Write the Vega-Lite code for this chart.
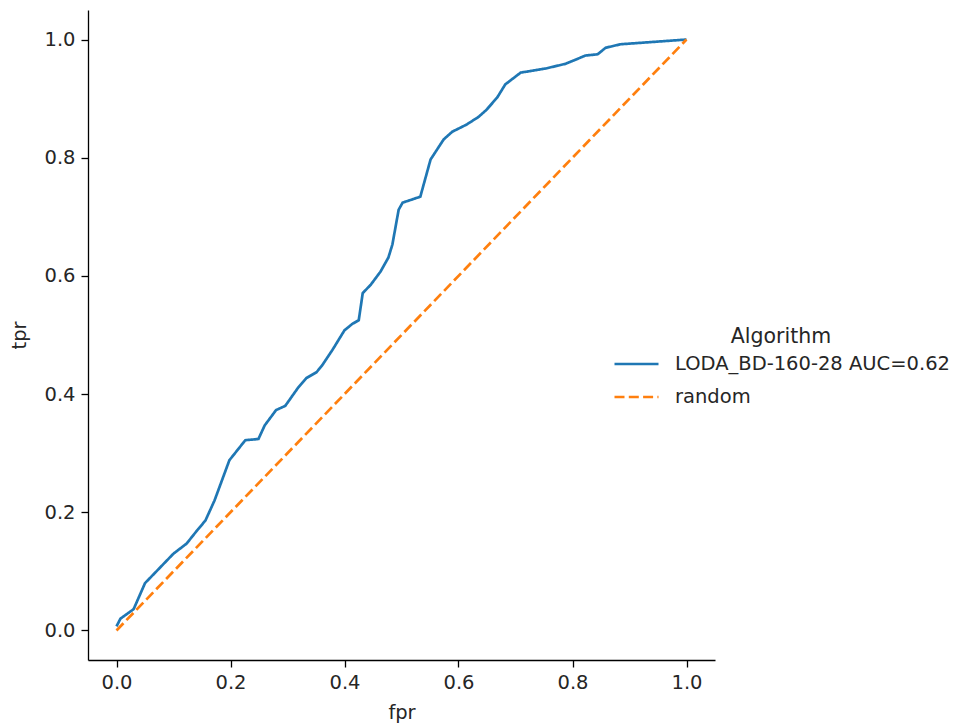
{
  "$schema": "https://vega.github.io/schema/vega-lite/v6.json",
  "width": 627,
  "height": 650,
  "autosize": "none",
  "padding": {"left": 88, "top": 10, "right": 245, "bottom": 66},
  "background": "white",
  "config": {
    "view": {"stroke": null},
    "font": "DejaVu Sans",
    "axis": {
      "grid": false,
      "domainColor": "black",
      "domainWidth": 1.3,
      "tickColor": "black",
      "tickWidth": 1.3,
      "tickSize": 7,
      "labelFont": "DejaVu Sans",
      "labelFontSize": 19.5,
      "labelColor": "#262626",
      "titleFont": "DejaVu Sans",
      "titleFontSize": 19.5,
      "titleFontWeight": "normal",
      "titleColor": "#262626"
    }
  },
  "data": {
    "values": [
      {"fpr": 0.0, "tpr": 0.007, "Algorithm": "LODA_BD-160-28 AUC=0.62"},
      {"fpr": 0.007, "tpr": 0.02, "Algorithm": "LODA_BD-160-28 AUC=0.62"},
      {"fpr": 0.03, "tpr": 0.036, "Algorithm": "LODA_BD-160-28 AUC=0.62"},
      {"fpr": 0.05, "tpr": 0.08, "Algorithm": "LODA_BD-160-28 AUC=0.62"},
      {"fpr": 0.077, "tpr": 0.107, "Algorithm": "LODA_BD-160-28 AUC=0.62"},
      {"fpr": 0.1, "tpr": 0.13, "Algorithm": "LODA_BD-160-28 AUC=0.62"},
      {"fpr": 0.123, "tpr": 0.147, "Algorithm": "LODA_BD-160-28 AUC=0.62"},
      {"fpr": 0.142, "tpr": 0.17, "Algorithm": "LODA_BD-160-28 AUC=0.62"},
      {"fpr": 0.156, "tpr": 0.186, "Algorithm": "LODA_BD-160-28 AUC=0.62"},
      {"fpr": 0.172, "tpr": 0.22, "Algorithm": "LODA_BD-160-28 AUC=0.62"},
      {"fpr": 0.198, "tpr": 0.288, "Algorithm": "LODA_BD-160-28 AUC=0.62"},
      {"fpr": 0.226, "tpr": 0.322, "Algorithm": "LODA_BD-160-28 AUC=0.62"},
      {"fpr": 0.249, "tpr": 0.324, "Algorithm": "LODA_BD-160-28 AUC=0.62"},
      {"fpr": 0.26, "tpr": 0.347, "Algorithm": "LODA_BD-160-28 AUC=0.62"},
      {"fpr": 0.28, "tpr": 0.373, "Algorithm": "LODA_BD-160-28 AUC=0.62"},
      {"fpr": 0.296, "tpr": 0.38, "Algorithm": "LODA_BD-160-28 AUC=0.62"},
      {"fpr": 0.318, "tpr": 0.41, "Algorithm": "LODA_BD-160-28 AUC=0.62"},
      {"fpr": 0.333, "tpr": 0.427, "Algorithm": "LODA_BD-160-28 AUC=0.62"},
      {"fpr": 0.351, "tpr": 0.437, "Algorithm": "LODA_BD-160-28 AUC=0.62"},
      {"fpr": 0.361, "tpr": 0.449, "Algorithm": "LODA_BD-160-28 AUC=0.62"},
      {"fpr": 0.379, "tpr": 0.475, "Algorithm": "LODA_BD-160-28 AUC=0.62"},
      {"fpr": 0.4, "tpr": 0.508, "Algorithm": "LODA_BD-160-28 AUC=0.62"},
      {"fpr": 0.414, "tpr": 0.519, "Algorithm": "LODA_BD-160-28 AUC=0.62"},
      {"fpr": 0.425, "tpr": 0.525, "Algorithm": "LODA_BD-160-28 AUC=0.62"},
      {"fpr": 0.432, "tpr": 0.571, "Algorithm": "LODA_BD-160-28 AUC=0.62"},
      {"fpr": 0.446, "tpr": 0.585, "Algorithm": "LODA_BD-160-28 AUC=0.62"},
      {"fpr": 0.463, "tpr": 0.607, "Algorithm": "LODA_BD-160-28 AUC=0.62"},
      {"fpr": 0.477, "tpr": 0.631, "Algorithm": "LODA_BD-160-28 AUC=0.62"},
      {"fpr": 0.484, "tpr": 0.653, "Algorithm": "LODA_BD-160-28 AUC=0.62"},
      {"fpr": 0.495, "tpr": 0.712, "Algorithm": "LODA_BD-160-28 AUC=0.62"},
      {"fpr": 0.502, "tpr": 0.724, "Algorithm": "LODA_BD-160-28 AUC=0.62"},
      {"fpr": 0.533, "tpr": 0.734, "Algorithm": "LODA_BD-160-28 AUC=0.62"},
      {"fpr": 0.551, "tpr": 0.797, "Algorithm": "LODA_BD-160-28 AUC=0.62"},
      {"fpr": 0.574, "tpr": 0.831, "Algorithm": "LODA_BD-160-28 AUC=0.62"},
      {"fpr": 0.589, "tpr": 0.844, "Algorithm": "LODA_BD-160-28 AUC=0.62"},
      {"fpr": 0.614, "tpr": 0.856, "Algorithm": "LODA_BD-160-28 AUC=0.62"},
      {"fpr": 0.635, "tpr": 0.869, "Algorithm": "LODA_BD-160-28 AUC=0.62"},
      {"fpr": 0.649, "tpr": 0.881, "Algorithm": "LODA_BD-160-28 AUC=0.62"},
      {"fpr": 0.668, "tpr": 0.902, "Algorithm": "LODA_BD-160-28 AUC=0.62"},
      {"fpr": 0.682, "tpr": 0.924, "Algorithm": "LODA_BD-160-28 AUC=0.62"},
      {"fpr": 0.709, "tpr": 0.944, "Algorithm": "LODA_BD-160-28 AUC=0.62"},
      {"fpr": 0.753, "tpr": 0.951, "Algorithm": "LODA_BD-160-28 AUC=0.62"},
      {"fpr": 0.788, "tpr": 0.959, "Algorithm": "LODA_BD-160-28 AUC=0.62"},
      {"fpr": 0.823, "tpr": 0.973, "Algorithm": "LODA_BD-160-28 AUC=0.62"},
      {"fpr": 0.844, "tpr": 0.975, "Algorithm": "LODA_BD-160-28 AUC=0.62"},
      {"fpr": 0.858, "tpr": 0.986, "Algorithm": "LODA_BD-160-28 AUC=0.62"},
      {"fpr": 0.884, "tpr": 0.992, "Algorithm": "LODA_BD-160-28 AUC=0.62"},
      {"fpr": 1.0, "tpr": 1.0, "Algorithm": "LODA_BD-160-28 AUC=0.62"},
      {"fpr": 0.0, "tpr": 0.0, "Algorithm": "random"},
      {"fpr": 1.0, "tpr": 1.0, "Algorithm": "random"}
    ]
  },
  "mark": {"type": "line", "strokeWidth": 2.7, "strokeCap": "butt"},
  "encoding": {
    "x": {
      "field": "fpr", "type": "quantitative",
      "scale": {"domain": [-0.05, 1.05], "nice": false, "zero": false},
      "axis": {"values": [0, 0.2, 0.4, 0.6, 0.8, 1.0], "format": ".1f", "title": "fpr", "labelPadding": 6, "titlePadding": 12}
    },
    "y": {
      "field": "tpr", "type": "quantitative",
      "scale": {"domain": [-0.05, 1.05], "nice": false, "zero": false},
      "axis": {"values": [0, 0.2, 0.4, 0.6, 0.8, 1.0], "format": ".1f", "title": "tpr", "labelPadding": 6, "titlePadding": 14}
    },
    "color": {
      "field": "Algorithm", "type": "nominal",
      "scale": {"domain": ["LODA_BD-160-28 AUC=0.62", "random"], "range": ["#1f77b4", "#ff7f0e"]},
      "legend": {
        "orient": "none", "legendX": 525, "legendY": 317,
        "title": "Algorithm", "titleFontSize": 20.5, "titleFontWeight": "normal", "titleColor": "#262626",
        "titleAnchor": "middle", "titleAlign": "center",
        "labelFontSize": 19.5, "labelColor": "#262626", "labelLimit": 400,
        "symbolType": "stroke", "symbolSize": 1936, "symbolStrokeWidth": 2.7,
        "labelOffset": 15, "rowPadding": -16, "titlePadding": -7
      }
    },
    "strokeDash": {
      "field": "Algorithm", "type": "nominal",
      "scale": {"domain": ["LODA_BD-160-28 AUC=0.62", "random"], "range": [[1, 0], [10, 4.3]]},
      "legend": null
    }
  }
}
